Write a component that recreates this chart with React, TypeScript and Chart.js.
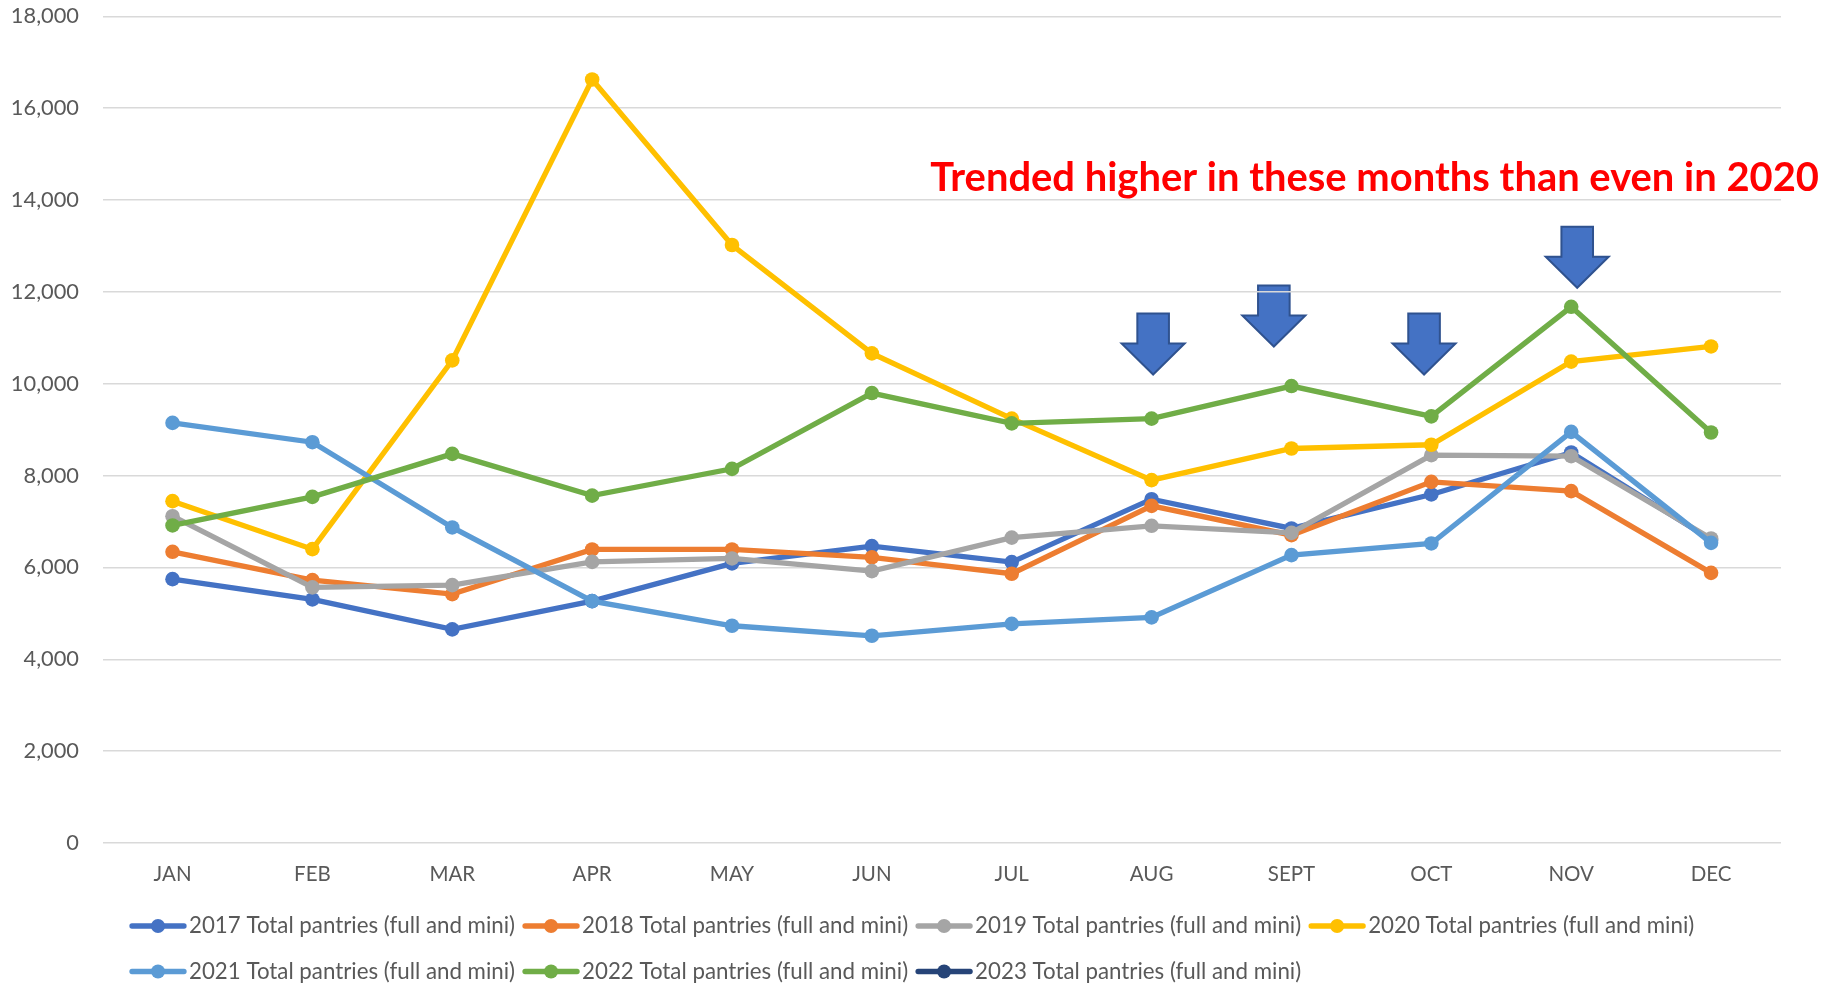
import React, { useEffect, useRef } from "react";
import { Chart, registerables } from "chart.js";

Chart.register(...registerables);

const months = ["JAN", "FEB", "MAR", "APR", "MAY", "JUN", "JUL", "AUG", "SEPT", "OCT", "NOV", "DEC"];

const seriesLabels = [
  "2017 Total pantries (full and mini)",
  "2018 Total pantries (full and mini)",
  "2019 Total pantries (full and mini)",
  "2020 Total pantries (full and mini)",
  "2021 Total pantries (full and mini)",
  "2022 Total pantries (full and mini)",
  "2023 Total pantries (full and mini)",
];

const pantries2017 = [5745, 5303, 4651, 5267, 6087, 6464, 6117, 7486, 6849, 7589, 8502, 6600];
const pantries2018 = [6340, 5724, 5419, 6392, 6392, 6218, 5863, 7341, 6703, 7863, 7661, 5882];
const pantries2019 = [7116, 5565, 5615, 6122, 6196, 5920, 6650, 6906, 6753, 8444, 8422, 6631];
const pantries2020 = [7443, 6398, 10508, 16624, 13020, 10660, 9239, 7900, 8590, 8671, 10482, 10812];
const pantries2021 = [9147, 8727, 6871, 5267, 4730, 4512, 4772, 4912, 6268, 6522, 8951, 6535];
const pantries2022 = [6914, 7537, 8473, 7563, 8147, 9797, 9137, 9239, 9949, 9289, 11675, 8938];
const pantries2023: (number | null)[] = [null, null, null, null, null, null, null, null, null, null, null, null];

const seriesColors = ["#4472C4", "#ED7D31", "#A5A5A5", "#FFC000", "#5B9BD5", "#70AD47", "#264478"];

const yTickLabels = ["0", "2,000", "4,000", "6,000", "8,000", "10,000", "12,000", "14,000", "16,000", "18,000"];

const arrowMonths = ["AUG", "SEPT", "OCT", "NOV"];
const arrowTipValues = [10200, 10810, 10200, 12090];
const arrowShift = [0.011, -0.126, -0.052, 0.043];

const calloutText = "Trended higher in these months than even in 2020";
const calloutValue = 14470;

const FONT = "Lato, 'Open Sans', sans-serif";

const annotationsPlugin = {
  id: "annotations",
  beforeDraw(chart: any) {
    const ctx = chart.ctx;
    const xs = chart.scales.x;
    const ys = chart.scales.y;
    const cat = xs.getPixelForValue(1) - xs.getPixelForValue(0);
    ctx.save();
    arrowMonths.forEach((m, i) => {
      const idx = months.indexOf(m);
      const cx = xs.getPixelForValue(idx) + arrowShift[i] * cat;
      const tip = ys.getPixelForValue(arrowTipValues[i]);
      const h = 61, hh = 31, sw = 15.8, hw = 31.5;
      ctx.beginPath();
      ctx.moveTo(cx - sw, tip - h);
      ctx.lineTo(cx + sw, tip - h);
      ctx.lineTo(cx + sw, tip - hh);
      ctx.lineTo(cx + hw, tip - hh);
      ctx.lineTo(cx, tip);
      ctx.lineTo(cx - hw, tip - hh);
      ctx.lineTo(cx - sw, tip - hh);
      ctx.closePath();
      ctx.fillStyle = "#4472C4";
      ctx.fill();
      ctx.lineWidth = 2;
      ctx.strokeStyle = "#2F528F";
      ctx.stroke();
    });
    ctx.restore();
  },
  afterDraw(chart: any) {
    const ctx = chart.ctx;
    const ys = chart.scales.y;
    ctx.save();
    let size = 36;
    ctx.font = `bold ${size}px ${FONT}`;
    const w = ctx.measureText(calloutText).width;
    size = size * 889 / w;
    ctx.font = `bold ${size}px ${FONT}`;
    ctx.fillStyle = "#FF0000";
    ctx.textAlign = "right";
    ctx.textBaseline = "middle";
    ctx.fillText(calloutText, chart.width - 1, ys.getPixelForValue(calloutValue));
    ctx.restore();
  },
};

const legendPlugin = {
  id: "customLegend",
  afterDraw(chart: any) {
    const ctx = chart.ctx;
    const startX = 122;
    const rowY = [chart.height - 60, chart.height - 14.5];
    const markerW = 56;
    const textGap = 3;
    const itemGap = 8;
    const maxRight = chart.width - 100;
    ctx.save();
    ctx.font = `22.3px ${FONT}`;
    ctx.textBaseline = "middle";
    ctx.textAlign = "left";
    let x = startX;
    let row = 0;
    chart.data.datasets.forEach((ds: any) => {
      const tw = ctx.measureText(ds.label).width;
      const iw = markerW + textGap + tw;
      if (x > startX && x + iw > maxRight) {
        row += 1;
        x = startX;
      }
      const y = rowY[row];
      ctx.strokeStyle = ds.borderColor;
      ctx.lineWidth = 5.3;
      ctx.lineCap = "round";
      ctx.beginPath();
      ctx.moveTo(x + 2, y);
      ctx.lineTo(x + markerW - 2, y);
      ctx.stroke();
      ctx.fillStyle = ds.borderColor;
      ctx.beginPath();
      ctx.arc(x + markerW / 2, y, 7, 0, Math.PI * 2);
      ctx.fill();
      ctx.fillStyle = "#595959";
      ctx.fillText(ds.label, x + markerW + textGap, y);
      x += iw + itemGap;
    });
    ctx.restore();
  },
};

export default function App() {
  const ref = useRef<HTMLCanvasElement>(null);
  useEffect(() => {
    const canvas = ref.current!;
    const allSeries = [pantries2017, pantries2018, pantries2019, pantries2020, pantries2021, pantries2022, pantries2023];
    const chart = new Chart(canvas, {
      type: "line",
      data: {
        labels: months,
        datasets: allSeries.map((d, i) => ({
          label: seriesLabels[i],
          data: d,
          borderColor: seriesColors[i],
          backgroundColor: seriesColors[i],
          borderWidth: 5.3,
          pointRadius: 7.3,
          pointBorderWidth: 0,
          pointBackgroundColor: seriesColors[i],
          tension: 0,
          order: allSeries.length - i,
        })),
      },
      options: {
        responsive: false,
        animation: false,
        devicePixelRatio: 1,
        layout: { autoPadding: false, padding: { left: 0, right: 39, top: 8.3, bottom: 83 } },
        plugins: {
          legend: { display: false },
          title: { display: false },
          tooltip: { enabled: false },
        },
        scales: {
          x: {
            offset: true,
            grid: { display: false, drawTicks: false, offset: true },
            border: { display: false },
            ticks: { color: "#595959", font: { family: FONT, size: 20.5, lineHeight: 1 }, padding: 21, maxRotation: 0 },
            afterFit: (s: any) => { s.height = 60; s.paddingLeft = 0; s.paddingRight = 0; },
          },
          y: {
            min: 0,
            max: 18000,
            ticks: {
              stepSize: 2000,
              color: "#595959",
              font: { family: FONT, size: 21.8, lineHeight: 1 },
              padding: 23.6,
              callback: (_v: any, i: number) => yTickLabels[i],
            },
            grid: { color: "#D9D9D9", lineWidth: 1.5, drawTicks: false },
            border: { display: false },
            afterFit: (s: any) => { s.width = 94.6; s.paddingTop = 0; s.paddingBottom = 0; },
          },
        },
      },
      plugins: [annotationsPlugin, legendPlugin],
    });
    return () => chart.destroy();
  }, []);
  return <canvas ref={ref} width={1812} height={978} style={{ display: "block" }} />;
}
